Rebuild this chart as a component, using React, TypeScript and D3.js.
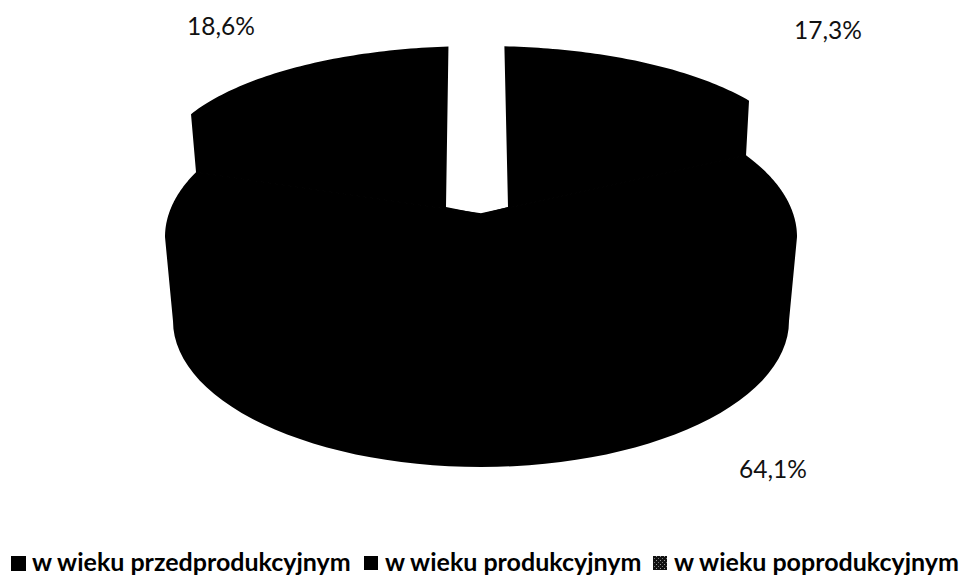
import React from "react";
import * as d3 from "d3";

const categories = ["w wieku przedprodukcyjnym", "w wieku produkcyjnym", "w wieku poprodukcyjnym"];
const values = [17.3, 64.1, 18.6];
const labels = ["17,3%", "64,1%", "18,6%"];
const labelX = [828, 773, 221];
const labelY = [39, 478, 35];
const legendSquareX = [11, 364, 653];
const legendSquareSize = [15, 14, 14];
const legendTextX = [32, 385, 674];

const W = 962;
const H = 576;
const rad = Math.PI / 180;

// cumulative share -> angle on the (perspective-distorted) pie, degrees clockwise from 12 o'clock
const cumulative = d3.cumsum(values);
const angleDeg = d3
  .scaleLinear()
  .domain([0, cumulative[0], cumulative[1], cumulative[2]])
  .range([3.7, 57, 295.6, 355]);

type Ell = { cx: number; cy: number; rx: number; ry: number };
const mainTop: Ell = { cx: 481, cy: 237, rx: 316, ry: 150 };
const mainBottom: Ell = { cx: 481, cy: 321, rx: 308, ry: 146 };
const rightTop: Ell = { cx: 484, cy: 166, rx: 316, ry: 120 };
const leftTop: Ell = { cx: 476, cy: 166, rx: 316, ry: 120 };
const rightApex: [number, number] = [508, 207];
const mainApex: [number, number] = [481, 214];
const leftApex: [number, number] = [446, 207];

function arc(e: Ell, a0: number, a1: number): [number, number][] {
  return d3.range(0, 61).map((i) => {
    const a = (a0 + ((a1 - a0) * i) / 60) * rad;
    return [e.cx + e.rx * Math.sin(a), e.cy - e.ry * Math.cos(a)] as [number, number];
  });
}

export default function App() {
  const line = d3.line();
  const a0 = angleDeg(0);
  const a1 = angleDeg(cumulative[0]);
  const a2 = angleDeg(cumulative[1]);
  const a3 = angleDeg(cumulative[2]);

  const cornerRight = arc(mainTop, a1, a1)[0];
  const cornerLeft = arc(mainTop, a2, a2)[0];

  const mainPts: [number, number][] = [
    mainApex,
    ...arc(mainTop, a1, 90),
    ...arc(mainBottom, 90, 270),
    ...arc(mainTop, 270, a2),
  ];
  const rightPts: [number, number][] = [mainApex, rightApex, ...arc(rightTop, a0, a1), cornerRight];
  const leftPts: [number, number][] = [mainApex, cornerLeft, ...arc(leftTop, a2, a3), leftApex];

  return (
    <svg width={W} height={H} style={{ position: "absolute", left: 0, top: 0 }}>
      <defs>
        <pattern id="speck" width={4} height={4} patternUnits="userSpaceOnUse">
          <rect width={4} height={4} fill="#111" />
          <rect x={0} y={0} width={1} height={1} fill="#999" />
          <rect x={2} y={2} width={1} height={1} fill="#777" />
        </pattern>
      </defs>
      <rect width={W} height={H} fill="#fff" />
      <path d={line(mainPts)! + "Z"} fill="#000" />
      <path d={line(rightPts)! + "Z"} fill="#000" />
      <path d={line(leftPts)! + "Z"} fill="#000" />
      <path d={line([cornerLeft, mainApex, cornerRight])!} fill="none" stroke="#000" strokeWidth={1.5} />
      <g fontFamily="Lato, sans-serif" fontSize={24.5} fill="#111">
        {labels.map((l, i) => (
          <text key={l} x={labelX[i]} y={labelY[i]} textAnchor="middle">
            {l}
          </text>
        ))}
      </g>
      <g fontFamily="Lato, sans-serif" fontWeight={700} fontSize={25} fill="#000">
        {categories.map((c, i) => (
          <g key={c}>
            <rect
              x={legendSquareX[i]}
              y={556}
              width={legendSquareSize[i]}
              height={legendSquareSize[i]}
              fill={i === 2 ? "url(#speck)" : "#000"}
            />
            <text x={legendTextX[i]} y={571}>
              {c}
            </text>
          </g>
        ))}
      </g>
    </svg>
  );
}
